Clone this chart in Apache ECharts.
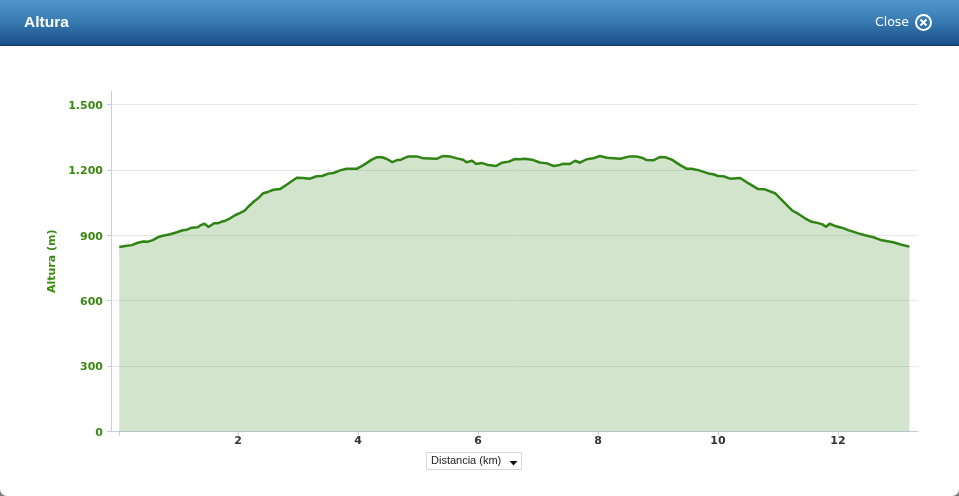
<!DOCTYPE html>
<html>
<head>
<meta charset="utf-8">
<script src="https://cdn.jsdelivr.net/npm/echarts@6/dist/echarts.min.js"></script>
<style>
html,body{margin:0;padding:0;background:#7d7d7d;overflow:hidden}
#c{width:959px;height:496px;background:#fff;border-radius:0 0 7px 7px;overflow:hidden}
</style>
</head>
<body>
<div id="c"></div>
<script>
const titleText = 'Altura';
const closeText = 'Close';
const yAxisName = 'Altura (m)';
const selectText = 'Distancia (km)';
const yTicks = [0, 300, 600, 900, 1200, 1500];
const xLabels = [2, 4, 6, 8, 10, 12];
const xTicks = [0.02, 2, 4, 6, 8, 10, 12];
const distanceKm = [0.02,0.12,0.23,0.33,0.42,0.50,0.58,0.67,0.75,0.87,0.98,1.08,1.15,1.23,1.33,1.38,1.44,1.51,1.60,1.66,1.72,1.78,1.87,1.95,2.03,2.11,2.17,2.26,2.34,2.42,2.51,2.59,2.70,2.81,2.90,2.98,3.09,3.20,3.31,3.40,3.51,3.59,3.70,3.81,3.98,4.09,4.23,4.31,4.40,4.48,4.57,4.65,4.70,4.78,4.84,4.98,5.09,5.31,5.42,5.53,5.65,5.75,5.81,5.90,5.97,6.06,6.17,6.30,6.40,6.51,6.62,6.70,6.78,6.90,7.03,7.15,7.26,7.34,7.42,7.53,7.62,7.70,7.81,7.92,8.03,8.15,8.37,8.51,8.65,8.73,8.81,8.92,9.03,9.12,9.23,9.37,9.48,9.56,9.67,9.84,9.92,10.00,10.09,10.20,10.37,10.51,10.67,10.78,10.95,11.09,11.23,11.34,11.45,11.56,11.67,11.74,11.80,11.86,11.95,12.06,12.17,12.34,12.45,12.59,12.73,12.92,13.06,13.19];
const altitudeM = [846,851,855,866,872,871,878,892,898,905,914,923,926,935,937,947,953,938,955,955,962,966,978,992,1002,1013,1031,1054,1071,1093,1100,1109,1112,1132,1149,1164,1163,1160,1171,1172,1183,1186,1198,1205,1205,1222,1247,1258,1258,1250,1236,1245,1245,1255,1262,1262,1253,1251,1264,1262,1253,1247,1235,1242,1227,1232,1222,1218,1233,1238,1250,1249,1251,1247,1234,1230,1218,1221,1228,1227,1242,1233,1249,1253,1264,1256,1251,1261,1261,1256,1245,1244,1259,1258,1247,1222,1205,1205,1199,1184,1180,1172,1171,1160,1163,1138,1112,1111,1093,1054,1015,998,978,962,956,950,939,953,943,935,924,909,900,891,877,868,857,848];

const chart = echarts.init(document.getElementById('c'), null, {renderer: 'canvas'});
const green = '#3a8a12';
const axisColor = '#c0d0e0';
chart.setOption({
  animation: false,
  backgroundColor: 'transparent',
  grid: {left: 111, right: 41, top: 91, height: 340.5, containLabel: false, show: false},
  xAxis: {
    type: 'value', min: -0.117, max: 13.333,
    axisLine: {show: true, onZero: false, lineStyle: {color: axisColor, width: 1}},
    axisTick: {show: true, length: 4, customValues: xTicks, lineStyle: {color: axisColor}},
    axisLabel: {
      customValues: xLabels, margin: 4, color: '#333333',
      fontFamily: 'DejaVu Sans', fontWeight: 'bold', fontSize: 11
    },
    splitLine: {show: false}
  },
  yAxis: {
    type: 'value', min: 0, max: 1562,
    name: yAxisName, nameLocation: 'middle', nameGap: 53, nameRotate: 90,
    nameTextStyle: {color: green, fontFamily: 'DejaVu Sans', fontWeight: 'bold', fontSize: 11},
    axisLine: {show: true, onZero: false, lineStyle: {color: axisColor, width: 1}},
    axisTick: {show: true, length: 4, customValues: yTicks, lineStyle: {color: axisColor}},
    axisLabel: {
      customValues: yTicks, margin: 8, color: green, verticalAlign: 'top', lineHeight: 3,
      fontFamily: 'DejaVu Sans', fontWeight: 'bold', fontSize: 11,
      formatter: v => String(v).replace(/\B(?=(\d{3})+$)/g, '.')
    },
    splitLine: {show: true, lineStyle: {color: '#e8e8e8', width: 1}}
  },
  series: [{
    type: 'line',
    data: distanceKm.map((d, i) => [d, altitudeM[i]]),
    symbol: 'none', smooth: false,
    lineStyle: {color: '#2f8413', width: 2.5},
    areaStyle: {color: 'rgba(32,125,0,0.2)', opacity: 1},
    z: 3
  }],
  graphic: [
    {type: 'rect', silent: true, z: 10, shape: {x: 0, y: 0, width: 959, height: 45},
      style: {fill: new echarts.graphic.LinearGradient(0, 0, 0, 1, [
        {offset: 0, color: '#4f96cb'}, {offset: 0.45, color: '#397cb3'}, {offset: 1, color: '#1a4f88'}])}},
    {type: 'rect', silent: true, z: 10, shape: {x: 0, y: 45, width: 959, height: 1}, style: {fill: '#123a66'}},
    {type: 'text', silent: true, z: 11, x: 24, y: 15,
      style: {text: titleText, fill: '#fff', fontFamily: 'Liberation Sans', fontWeight: 'bold', fontSize: 15.5}},
    {type: 'text', silent: true, z: 11, x: 875, y: 16,
      style: {text: closeText, fill: '#fff', fontFamily: 'DejaVu Sans', fontSize: 12.5}},
    {type: 'circle', silent: true, z: 11, shape: {cx: 923.5, cy: 22.5, r: 7.5},
      style: {fill: 'transparent', stroke: '#fff', lineWidth: 2}},
    {type: 'line', silent: true, z: 11, shape: {x1: 920.5, y1: 19.5, x2: 926.5, y2: 25.5},
      style: {stroke: '#fff', lineWidth: 2}},
    {type: 'line', silent: true, z: 11, shape: {x1: 926.5, y1: 19.5, x2: 920.5, y2: 25.5},
      style: {stroke: '#fff', lineWidth: 2}},
    {type: 'rect', silent: true, z: 11, shape: {x: 426.5, y: 452.5, width: 95, height: 17},
      style: {fill: '#fff', stroke: '#d4d8de', lineWidth: 1}},
    {type: 'text', silent: true, z: 12, x: 431, y: 455,
      style: {text: selectText, fill: '#222', fontFamily: 'Liberation Sans', fontSize: 11}},
    {type: 'polygon', silent: true, z: 12, shape: {points: [[509.5, 461], [517.5, 461], [513.5, 465.5]]},
      style: {fill: '#111'}}
  ]
});
</script>
</body>
</html>
